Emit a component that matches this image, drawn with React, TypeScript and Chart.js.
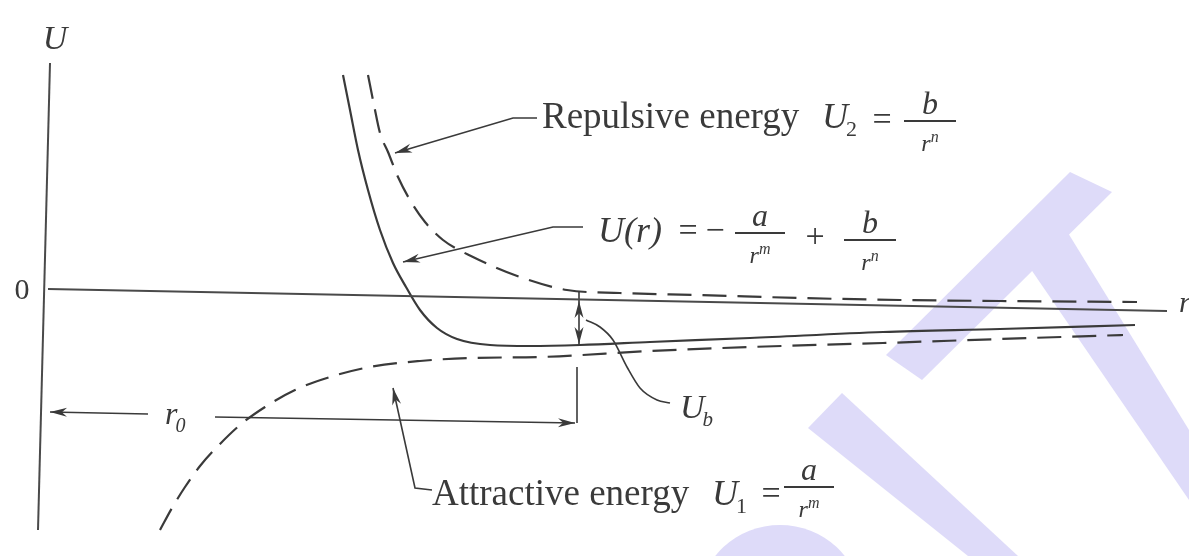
import React, { useEffect, useRef } from 'react';
import { Chart, registerables } from 'chart.js';

Chart.register(...registerables);

// Diagram units: r runs right from the U axis, U runs up from the r axis.
// Vertical U axis and horizontal r axis (the printed figure sits slightly skewed).
const axisUR = [2, -10];
const axisUU = [227, -240];
const axisRR = [0, 1119];
const axisRU = [1, -21];

// Net potential U(r) = -a/r^m + b/r^n (solid)
const netR = [295, 302, 310, 320, 332, 345, 358, 372, 389, 409, 442, 482, 532, 602, 702, 835, 952, 1087];
const netU = [215, 180, 140, 100, 60, 27, 3, -20, -38, -49, -55, -56, -55, -52, -48, -42, -39, -35];

// Repulsive energy U2 = b/r^n (dashed)
const repR = [320, 326, 332, 340, 350, 362, 377, 395, 425, 472, 519, 572, 652, 752, 852, 952, 1089];
const repU = [215, 185, 157, 138, 113, 90, 68, 50, 33, 13, 0, -3, -5, -8, -10, -11, -12];

// Attractive energy U1 = -a/r^m (dashed)
const attR = [112, 124, 137, 152, 170, 192, 217, 247, 282, 322, 372, 422, 492, 602, 702, 835, 952, 1075];
const attU = [-240, -218, -197, -176, -156, -135, -117, -100, -87, -77, -71, -68, -67, -61, -57, -53, -49, -45];

// Leader arrows from the labels to the curves (tip is the last point)
const repPointerR = [489, 465, 347];
const repPointerU = [172, 172, 137];
const netPointerR = [535, 505, 355];
const netPointerU = [63, 63, 28];
const attPointerR = [384, 367, 345];
const attPointerU = [-200, -198, -98];

// r0 dimension: arrows to the U axis and to the minimum, with the drop line
const r0LeftR = [100, 2];
const r0LeftU = [-124, -122];
const r0RightR = [167, 527];
const r0RightU = [-127, -133];
const r0DropR = [529, 529];
const r0DropU = [-133, -77];

// Binding energy Ub: double arrow between the r axis and the well bottom, plus its leader
const ubArrowR = [531, 531];
const ubArrowU = [-2, -56];
const ubTipUpU = -11;
const ubTipDownU = -54;
const ubLeaderR = [538, 552, 565, 579, 592, 609, 622];
const ubLeaderU = [-30, -37, -50, -77, -98, -110, -113];

const INK = '#3a3a3a';
const SERIF = '"Liberation Serif", "DejaVu Serif", serif';

const pts = (rs: number[], us: number[]) => rs.map((r, i) => ({ x: r, y: us[i] }));

function line(rs: number[], us: number[], width: number, dash: number[] = [], curved = false, color = INK) {
  return {
    data: pts(rs, us),
    showLine: true,
    borderColor: color,
    borderWidth: width,
    borderDash: dash,
    pointRadius: 0,
    fill: false,
    cubicInterpolationMode: curved ? 'monotone' : 'default',
    tension: 0,
  };
}

function font(size: number, italic: boolean) {
  return `${italic ? 'italic ' : ''}${size}px ${SERIF}`;
}

const notesPlugin = {
  id: 'diagramNotes',
  beforeDraw(chart: any) {
    const { ctx, width, height, scales } = chart;
    const X = (r: number) => scales.x.getPixelForValue(r);
    const Y = (u: number) => scales.y.getPixelForValue(u);
    ctx.save();
    ctx.fillStyle = '#ffffff';
    ctx.fillRect(0, 0, width, height);
    // faint lavender stamp shapes behind the figure
    ctx.fillStyle = '#dedbf9';
    const poly = (p: number[][]) => {
      ctx.beginPath();
      p.forEach(([r, u], i) => (i ? ctx.lineTo(X(r), Y(u)) : ctx.moveTo(X(r), Y(u))));
      ctx.closePath();
      ctx.fill();
    };
    poly([[1022, 118], [1064, 98], [874, -90], [838, -65]]);
    poly([[980, 25], [1017, 62], [1141, -140], [1141, -210]]);
    poly([[760, -138], [794, -103], [970, -266], [920, -266]]);
    ctx.beginPath();
    ctx.ellipse(X(732), Y(-310), X(812) - X(732), Y(-310) - Y(-235), 0, 0, Math.PI * 2);
    ctx.fill();
    ctx.restore();
  },
  afterDatasetsDraw(chart: any) {
    const { ctx, scales } = chart;
    const X = (r: number) => scales.x.getPixelForValue(r);
    const Y = (u: number) => scales.y.getPixelForValue(u);
    ctx.save();
    ctx.fillStyle = INK;
    ctx.strokeStyle = INK;

    const head = (tr: number, tu: number, fr: number, fu: number) => {
      const tx = X(tr), ty = Y(tu), fx = X(fr), fy = Y(fu);
      const a = Math.atan2(ty - fy, tx - fx);
      const L = 17, W = 4.5;
      ctx.beginPath();
      ctx.moveTo(tx, ty);
      ctx.lineTo(tx - L * Math.cos(a) + W * Math.sin(a), ty - L * Math.sin(a) - W * Math.cos(a));
      ctx.lineTo(tx - L * 0.7 * Math.cos(a), ty - L * 0.7 * Math.sin(a));
      ctx.lineTo(tx - L * Math.cos(a) - W * Math.sin(a), ty - L * Math.sin(a) + W * Math.cos(a));
      ctx.closePath();
      ctx.fill();
    };
    const tipOf = (rs: number[], us: number[]) => {
      const n = rs.length;
      head(rs[n - 1], us[n - 1], rs[n - 2], us[n - 2]);
    };
    tipOf(repPointerR, repPointerU);
    tipOf(netPointerR, netPointerU);
    tipOf(attPointerR, attPointerU);
    tipOf(r0LeftR, r0LeftU);
    tipOf(r0RightR, r0RightU);
    head(ubArrowR[0], ubTipUpU, ubArrowR[0], ubTipUpU - 30);
    head(ubArrowR[0], ubTipDownU, ubArrowR[0], ubTipDownU + 30);

    const text = (s: string, r: number, u: number, size: number, italic: boolean, align: CanvasTextAlign = 'left', base: CanvasTextBaseline = 'alphabetic') => {
      ctx.font = font(size, italic);
      ctx.textAlign = align;
      ctx.textBaseline = base;
      ctx.fillText(s, X(r), Y(u));
      return ctx.measureText(s).width;
    };
    // symbol with subscript, baseline at (r,u)
    const sym = (main: string, sub: string, r: number, u: number, size: number, subItalic: boolean) => {
      const w = text(main, r, u, size, true);
      ctx.font = font(Math.round(size * 0.62), subItalic);
      ctx.textAlign = 'left';
      ctx.textBaseline = 'alphabetic';
      ctx.fillText(sub, X(r) + w - 2, Y(u) + 8);
    };
    // fraction num / r^sup, centred on r, bar at height u
    const frac = (num: string, sup: string, r: number, u: number, half: number) => {
      const cx = X(r), by = Y(u);
      ctx.fillRect(cx - half, by - 1, half * 2, 2);
      ctx.font = font(32, true);
      ctx.textAlign = 'center';
      ctx.textBaseline = 'alphabetic';
      ctx.fillText(num, cx, by - 7);
      ctx.font = font(24, true);
      const wr = ctx.measureText('r').width;
      ctx.font = font(16, true);
      const ws = ctx.measureText(sup).width;
      const x0 = cx - (wr + ws) / 2;
      ctx.textAlign = 'left';
      ctx.font = font(24, true);
      ctx.fillText('r', x0, by + 30);
      ctx.font = font(16, true);
      ctx.fillText(sup, x0 + wr, by + 21);
    };

    // axis marks
    text('U', 7, 250, 34, true, 'center', 'middle');
    text('0', -26, -1, 30, false, 'center', 'middle');
    text('r', 1131, -22, 30, true, 'left', 'alphabetic');

    // repulsive label
    text('Repulsive energy', 494, 162, 37, false);
    sym('U', '2', 774, 162, 36, false);
    text('=', 834, 169, 34, false, 'center', 'middle');
    frac('b', 'n', 882, 169, 26);

    // net potential label
    text('U(r)', 550, 48, 36, true);
    text('=', 640, 58, 34, false, 'center', 'middle');
    text('\u2212', 667, 58, 34, false, 'center', 'middle');
    frac('a', 'm', 712, 57, 25);
    text('+', 767, 52, 34, false, 'center', 'middle');
    frac('b', 'n', 822, 50, 26);

    // attractive label
    text('Attractive energy', 384, -215, 37, false);
    sym('U', '1', 664, -215, 36, false);
    text('=', 723, -205, 34, false, 'center', 'middle');
    frac('a', 'm', 761, -197, 25);

    // r0 and Ub labels
    sym('r', '0', 117, -134, 32, true);
    sym('U', 'b', 632, -128, 34, true);

    ctx.restore();
  },
};

export default function App() {
  const ref = useRef<HTMLCanvasElement | null>(null);
  useEffect(() => {
    document.body.style.margin = '0';
    const canvas = ref.current;
    if (!canvas) return;
    const chart = new Chart(canvas, {
      type: 'scatter',
      data: {
        datasets: [
          line(axisUR, axisUU, 2, [], false, '#4a4a4a'),
          line(axisRR, axisRU, 2, [], false, '#4a4a4a'),
          line(netR, netU, 2.2, [], true),
          line(repR, repU, 2.2, [24, 11], true),
          line(attR, attU, 2.2, [24, 11], true),
          line(repPointerR, repPointerU, 1.6),
          line(netPointerR, netPointerU, 1.6),
          line(attPointerR, attPointerU, 1.6),
          line(r0LeftR, r0LeftU, 1.6),
          line(r0RightR, r0RightU, 1.6),
          line(r0DropR, r0DropU, 1.6),
          line(ubArrowR, ubArrowU, 1.6),
          line(ubLeaderR, ubLeaderU, 1.6, [], true),
        ] as any,
      },
      options: {
        animation: false,
        responsive: false,
        maintainAspectRatio: false,
        events: [],
        layout: { padding: 0 },
        plugins: { legend: { display: false }, tooltip: { enabled: false } },
        scales: {
          x: { type: 'linear', display: false, min: -48, max: 1141 },
          y: { type: 'linear', display: false, min: -266, max: 290 },
        },
      },
      plugins: [notesPlugin],
    });
    return () => chart.destroy();
  }, []);
  return (
    <div style={{ width: 1189, height: 556 }}>
      <canvas ref={ref} width={1189} height={556} style={{ display: 'block' }} />
    </div>
  );
}
